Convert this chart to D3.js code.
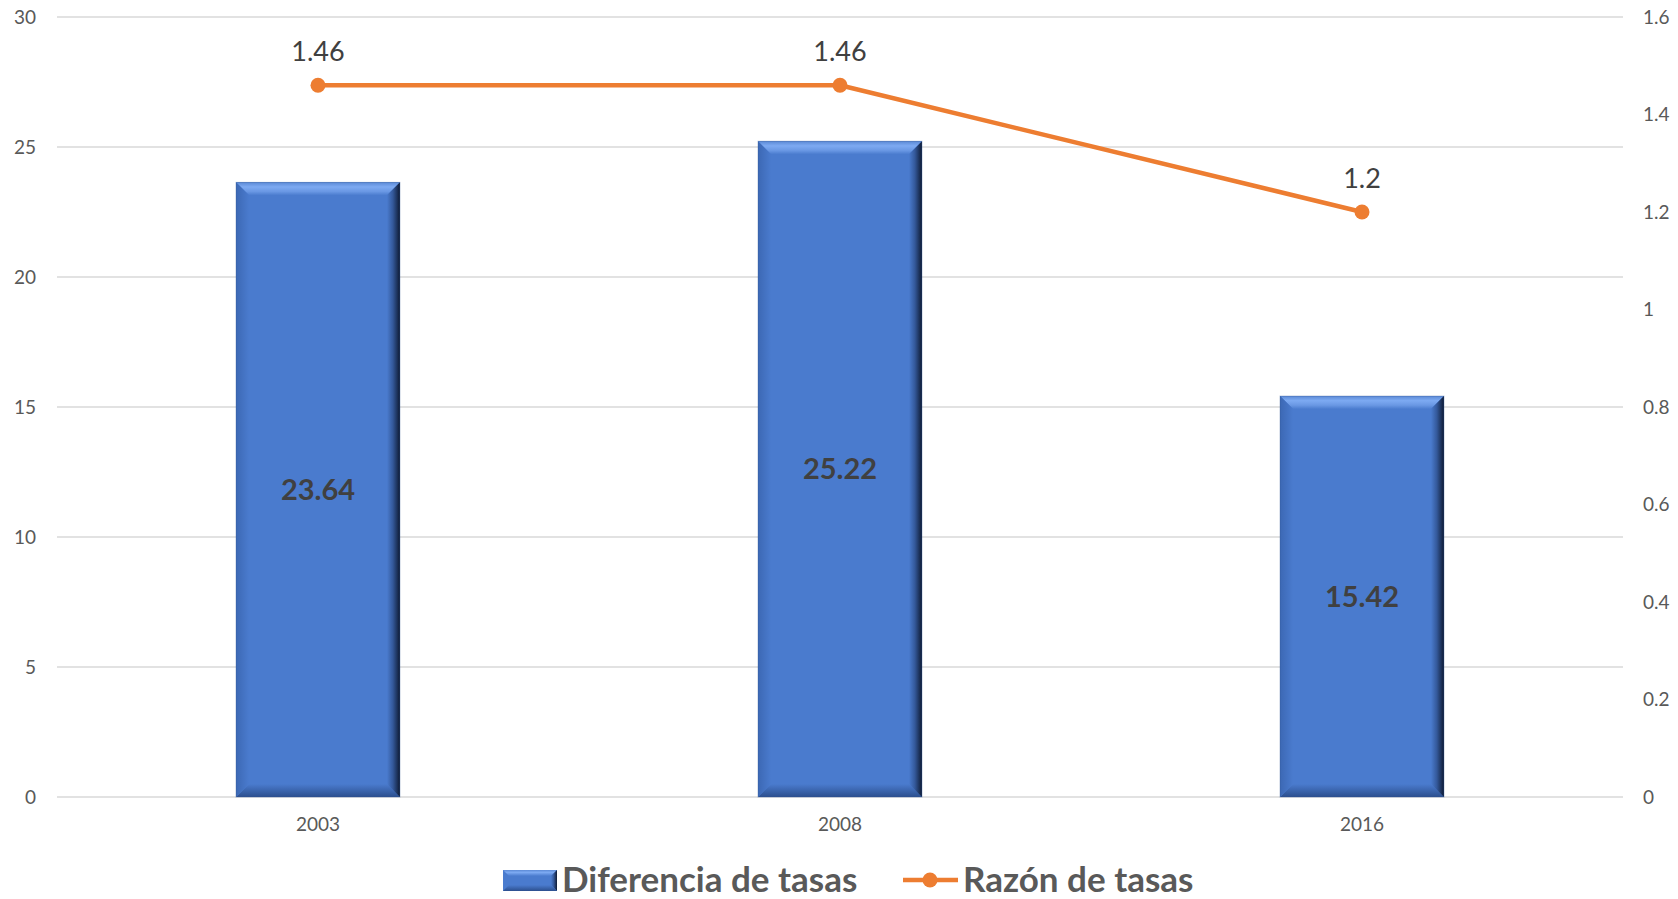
<!DOCTYPE html>
<html>
<head>
<meta charset="utf-8">
<script src="https://cdn.jsdelivr.net/npm/d3@7"></script>
<style>
  html, body { margin: 0; padding: 0; background: #fff; }
  svg { display: block; font-family: Lato, "Open Sans", sans-serif; }
</style>
</head>
<body>
<svg id="chart" width="1678" height="899"></svg>
<script>
// Data
const years = ["2003", "2008", "2016"];
const diferencia = [23.64, 25.22, 15.42];
const razon = [1.46, 1.46, 1.2];
const leftTicks = [0, 5, 10, 15, 20, 25, 30];
const rightTicks = [0, 0.2, 0.4, 0.6, 0.8, 1, 1.2, 1.4, 1.6];

const svg = d3.select("#chart");
const plot = { left: 57, right: 1623, top: 17, bottom: 797 };

const x = d3.scaleBand().domain(years).range([plot.left, plot.right]).padding(0);
const yL = d3.scaleLinear().domain([0, 30]).range([plot.bottom, plot.top]);
const yR = d3.scaleLinear().domain([0, 1.6]).range([plot.bottom, plot.top]);

const barW = x.bandwidth() * 0.314;
const bevel = 13;
const BASE = "#4A7BCE";

// Gradients for the bevelled bar edges
const defs = svg.append("defs");
function grad(id, x1, y1, x2, y2, stops) {
  const g = defs.append("linearGradient").attr("id", id)
    .attr("x1", x1).attr("y1", y1).attr("x2", x2).attr("y2", y2);
  stops.forEach(s => g.append("stop").attr("offset", s[0]).attr("stop-color", s[1]));
}
grad("bTop", 0, 0, 0, 1, [[0, "#5C8AD6"], [0.35, "#7DAAF2"], [0.7, "#6A98E4"], [1, BASE]]);
grad("bRight", 0, 0, 1, 0, [[0, BASE], [0.45, "#34599B"], [1, "#0E1A33"]]);
grad("bLeft", 0, 0, 1, 0, [[0, "#3C68B4"], [1, BASE]]);
grad("bBottom", 0, 0, 0, 1, [[0, BASE], [1, "#2C4F8E"]]);
grad("legTop", 0, 0, 0, 1, [[0, "#5C8AD6"], [0.4, "#7DAAF2"], [1, BASE]]);

// Gridlines
svg.append("g").selectAll("line").data(leftTicks).join("line")
  .attr("x1", plot.left).attr("x2", plot.right)
  .attr("y1", d => yL(d)).attr("y2", d => yL(d))
  .attr("stroke", "#D9D9D9").attr("stroke-width", 1.5);

function styleAxis(g) {
  g.select(".domain").remove();
  g.selectAll("text").attr("font-size", 19).attr("fill", "#595959").attr("font-family", "Lato, sans-serif");
}

// Left axis
svg.append("g").attr("transform", `translate(${plot.left - 21},0)`)
  .call(d3.axisLeft(yL).tickValues(leftTicks).tickSize(0).tickPadding(0).tickFormat(d3.format("~g")))
  .call(styleAxis);

// Right axis
svg.append("g").attr("transform", `translate(${plot.right + 20},0)`)
  .call(d3.axisRight(yR).tickValues(rightTicks).tickSize(0).tickPadding(0).tickFormat(d3.format("~g")))
  .call(styleAxis);

// Category labels
svg.append("g").attr("transform", `translate(0,${plot.bottom + 20})`)
  .call(d3.axisBottom(x).tickSize(0).tickPadding(0))
  .call(styleAxis);

// Bevelled bar drawing
function bevelBar(g, x0, y0, w, h, b) {
  const x1 = x0 + w, y1 = y0 + h;
  g.append("rect").attr("x", x0).attr("y", y0).attr("width", w).attr("height", h).attr("fill", BASE);
  g.append("polygon").attr("points", `${x0},${y0} ${x1},${y0} ${x1 - b},${y0 + b} ${x0 + b},${y0 + b}`).attr("fill", "url(#bTop)");
  g.append("polygon").attr("points", `${x0},${y1} ${x0 + b},${y1 - b} ${x1 - b},${y1 - b} ${x1},${y1}`).attr("fill", "url(#bBottom)");
  g.append("polygon").attr("points", `${x0},${y0} ${x0 + b},${y0 + b} ${x0 + b},${y1 - b} ${x0},${y1}`).attr("fill", "url(#bLeft)");
  g.append("polygon").attr("points", `${x1},${y0} ${x1},${y1} ${x1 - b},${y1 - b} ${x1 - b},${y0 + b}`).attr("fill", "url(#bRight)");
  g.append("rect").attr("x", x0).attr("y", y0).attr("width", w).attr("height", h)
    .attr("fill", "none").attr("stroke", "#2F528F").attr("stroke-opacity", 0.35).attr("stroke-width", 1);
}

const bars = svg.append("g");
years.forEach((yr, i) => {
  const cx = x(yr) + x.bandwidth() / 2;
  const top = yL(diferencia[i]);
  bevelBar(bars.append("g"), cx - barW / 2, top, barW, yL(0) - top, bevel);
});

// Bar value labels
svg.append("g").selectAll("text").data(years).join("text")
  .attr("x", d => x(d) + x.bandwidth() / 2)
  .attr("y", (d, i) => (yL(diferencia[i]) + yL(0)) / 2)
  .attr("dy", "0.35em")
  .attr("text-anchor", "middle")
  .attr("font-size", 29).attr("font-weight", "bold").attr("fill", "#404040")
  .text((d, i) => diferencia[i].toFixed(2));

// Ratio line
const pts = years.map((yr, i) => [x(yr) + x.bandwidth() / 2, yR(razon[i])]);
svg.append("path").attr("d", d3.line()(pts))
  .attr("fill", "none").attr("stroke", "#ED7D31").attr("stroke-width", 4.5).attr("stroke-linejoin", "round");
svg.append("g").selectAll("circle").data(pts).join("circle")
  .attr("cx", d => d[0]).attr("cy", d => d[1]).attr("r", 7.5).attr("fill", "#ED7D31");
svg.append("g").selectAll("text").data(pts).join("text")
  .attr("x", d => d[0]).attr("y", d => d[1] - 24)
  .attr("text-anchor", "middle")
  .attr("font-size", 27).attr("fill", "#404040")
  .text((d, i) => d3.format("~g")(razon[i]));

// Legend
const leg = svg.append("g");
const lx = 503, ly = 870, lw = 54, lh = 21;
leg.append("rect").attr("x", lx).attr("y", ly).attr("width", lw).attr("height", lh).attr("fill", BASE);
leg.append("polygon").attr("points", `${lx},${ly} ${lx + lw},${ly} ${lx + lw - 6},${ly + 6} ${lx + 6},${ly + 6}`).attr("fill", "url(#legTop)");
leg.append("polygon").attr("points", `${lx + lw},${ly} ${lx + lw},${ly + lh} ${lx + lw - 6},${ly + lh - 6} ${lx + lw - 6},${ly + 6}`).attr("fill", "url(#bRight)");
leg.append("polygon").attr("points", `${lx},${ly + lh} ${lx + 6},${ly + lh - 6} ${lx + lw - 6},${ly + lh - 6} ${lx + lw},${ly + lh}`).attr("fill", "url(#bBottom)");
leg.append("text").attr("x", 562).attr("y", 892)
  .attr("font-size", 35).attr("font-weight", "bold").attr("fill", "#595959")
  .text("Diferencia de tasas");
leg.append("line").attr("x1", 903).attr("x2", 958).attr("y1", 880).attr("y2", 880)
  .attr("stroke", "#ED7D31").attr("stroke-width", 4.5);
leg.append("circle").attr("cx", 930).attr("cy", 880).attr("r", 7.5).attr("fill", "#ED7D31");
leg.append("text").attr("x", 963).attr("y", 892)
  .attr("font-size", 35).attr("font-weight", "bold").attr("fill", "#595959")
  .text("Razón de tasas");
</script>
</body>
</html>
